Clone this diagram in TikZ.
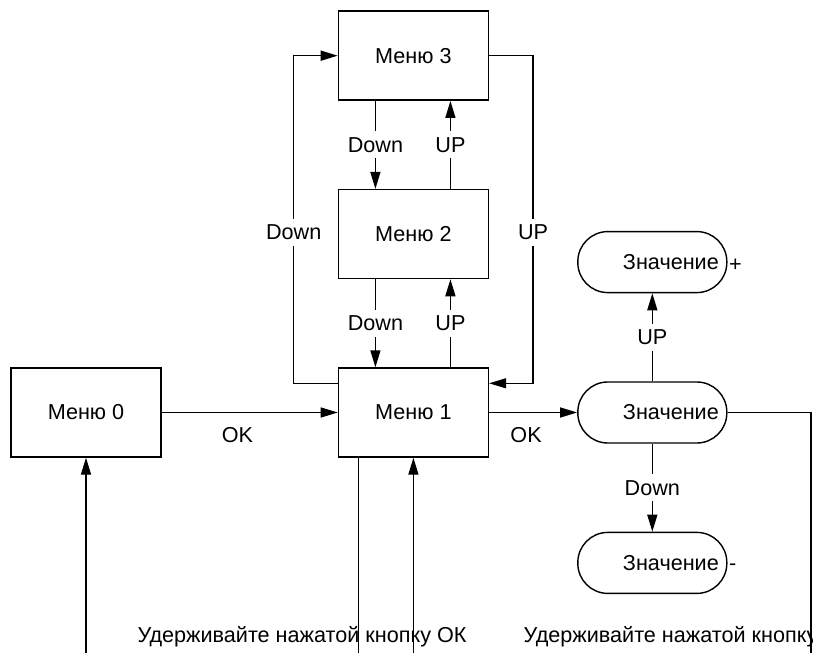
\documentclass[tikz,border=0pt]{standalone}
\usepackage{fontspec}
\setmainfont{Liberation Sans}
\usepackage{tikz}
\usetikzlibrary{positioning}
\usetikzlibrary{calc}
\usetikzlibrary{arrows.meta, shapes}
\tikzset{
	>={Triangle[length=0.34cm,width=0.2cm]},
	node distance = 1.76 cm and 3.52 cm,
	every path/.style={line width=0.8pt},
	every node/.style={font=\fontsize{12.3}{14}\selectfont},
	menu/.style = {rectangle, draw, minimum width=3cm, minimum height=1.78cm, inner sep=0pt},
	val/.style = {rectangle, draw, rounded corners=0.6cm, minimum height=1.22cm, text width=2.66cm, align=right, inner xsep=0.16cm},
	lbl/.style = {fill=white},
	sign/.style = {inner sep=0.5pt, label distance=0pt}
}

\begin{document}
\begin{tikzpicture}
	\useasboundingbox (0,0) rectangle (16.26,-13.06);

					\node (m0) [menu] at (1.72,-8.25) {Меню 0};
					\node (m1) [menu, right = of m0] {Меню 1};
					\node (m2) [menu, above = of m1] {Меню 2};
					\node (m3) [menu, above = of m2] {Меню 3};

					\node (z0) [val, right = 1.76cm of m1] {Значение};
					\node (z1) [val, label={[sign, yshift=-0.07cm]right:+}, above = of z0] {Значение};
					\node (z2) [val, label={[sign, yshift=-0.09cm]right:-}, below = of z0] {Значение};

					% hint texts at the bottom
					\node (t1) [anchor=base] at (6.04,-12.84) {Удерживайте нажатой кнопку ОК};
					\node (t2) [anchor=base west, inner sep=0pt] at (10.46,-12.84) {Удерживайте нажатой кнопку};

					\coordinate (bot) at (0,-13.06);
					\coordinate (e0) at (m0.south |- bot);
					\coordinate (e1) at (m1.south |- bot);
					\coordinate (d1) at ([xshift=-1.1cm]m1.south);
					\coordinate (f1) at (d1 |- bot);
					\coordinate (f2) at (16.22,-13.06);

					\path[->] (m0) edge node[below=0.16cm, pos=0.43] {OK} (m1);
					\path[->] (m1) edge node[below=0.16cm, pos=0.42] {OK} (z0);

					\path[->] ([xshift=-0.76cm]m3.south) edge node[lbl] {Down} ([xshift=-0.76cm]m2.north);
					\path[->] ([xshift=0.74cm]m2.north) edge node[lbl] {UP} ([xshift=0.74cm]m3.south);
					\path[->] ([xshift=-0.76cm]m2.south) edge node[lbl] {Down} ([xshift=-0.76cm]m1.north);
					\path[->] ([xshift=0.74cm]m1.north) edge node[lbl] {UP} ([xshift=0.74cm]m2.south);

					\draw[->] ([yshift=-0.32cm]m1.north west) -- ++(-0.88,0) |- node[lbl, pos=0.23] {Down} (m3.west);
					\draw[->] (m3.east) -- ++(0.88,0) |- node[lbl, pos=0.27] {UP} ([yshift=-0.32cm]m1.north east);

					\path[->] (z0) edge node[lbl] {UP} (z1);
					\path[->] (z0) edge node[lbl] {Down} (z2);
					\draw (z0.east) -| (f2);

					\path[->] (e0) edge (m0);
					\path[->] (e1) edge (m1);
					\draw (d1) -- (f1);
				\end{tikzpicture}
\end{document}
